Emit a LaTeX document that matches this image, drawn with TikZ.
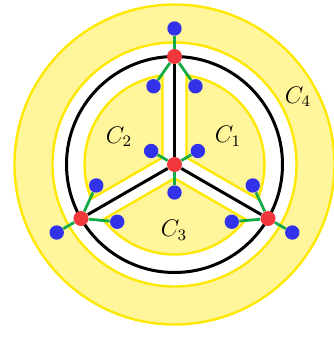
\documentclass[tikz,border=0pt]{standalone}
\usepackage{tikz}

\definecolor{ringfill}{RGB}{255,245,155}
\definecolor{ringline}{RGB}{255,232,0}
\definecolor{nodered}{RGB}{240,55,60}
\definecolor{nodeblue}{RGB}{50,50,235}
\definecolor{edgegreen}{RGB}{20,170,70}

\begin{document}
\begin{tikzpicture}[x=0.5pt, y=0.5pt, font=\large]
    \tikzset{red node/.style={circle,fill=nodered,inner sep=0pt,minimum size=7.5pt},
             blue node/.style={circle,fill=nodeblue,inner sep=0pt,minimum size=7.2pt},
             region/.style={fill=ringfill,draw=ringline,line width=1.2pt},
             leaf edge/.style={draw=edgegreen,line width=1.4pt},
             spoke/.style={draw=black,line width=1.5pt}}
    \useasboundingbox (-174.5,-173.5) rectangle (158.5,164.5);

    % Outer ring C4
    \fill[ringfill, even odd rule] (0,0) circle[radius=160] (0,0) circle[radius=122];
    \draw[ringline, line width=1.2pt] (0,0) circle[radius=160];
    \draw[ringline, line width=1.2pt] (0,0) circle[radius=122];

    % Inner regions C1, C2, C3
    \foreach \b in {30,150,270}
      \draw[region] (\b:13.86) -- (\b-52.34:90) arc[start angle=\b-52.34, end angle=\b+52.34, radius=90] -- cycle;

    % Cycle through the outer vertices
    \draw[spoke] (0,0) circle[radius=108];

    % Red vertices
    \node[red node] (mid) at (0,0) {};
    \node[red node] (top) at (90:108) {};
    \node[red node] (left) at (210:108) {};
    \node[red node] (right) at (330:108) {};

    % Blue leaves of the centre vertex
    \node[blue node] (mid_a) at (30:27) {};
    \node[blue node] (mid_b) at (150:27) {};
    \node[blue node] (mid_c) at (270:28) {};

    % Blue leaves of the outer vertices
    \node[blue node] (top_out) at (90:136) {};
    \node[blue node] (top_a) at (75:81) {};
    \node[blue node] (top_b) at (105:81) {};
    \node[blue node] (left_out) at (210:136) {};
    \node[blue node] (left_a) at (195:81) {};
    \node[blue node] (left_b) at (225:81) {};
    \node[blue node] (right_out) at (330:136) {};
    \node[blue node] (right_a) at (315:81) {};
    \node[blue node] (right_b) at (345:81) {};

    % Spokes
    \draw[spoke] (mid) -- (top);
    \draw[spoke] (mid) -- (left);
    \draw[spoke] (mid) -- (right);

    % Green edges
    \draw[leaf edge] (mid) -- (mid_a);
    \draw[leaf edge] (mid) -- (mid_b);
    \draw[leaf edge] (mid) -- (mid_c);
    \foreach \v in {top,left,right} {
      \draw[leaf edge] (\v) -- (\v_out);
      \draw[leaf edge] (\v) -- (\v_a);
      \draw[leaf edge] (\v) -- (\v_b);
    }

    % Region labels
    \node (c1) at (53.5,28.5) {$C_1$};
    \node (c2) at (-55.5,27.5) {$C_2$};
    \node (c3) at (-0.5,-65.5) {$C_3$};
    \node (c4) at (123.5,67.8) {$C_4$};
\end{tikzpicture}
\end{document}
